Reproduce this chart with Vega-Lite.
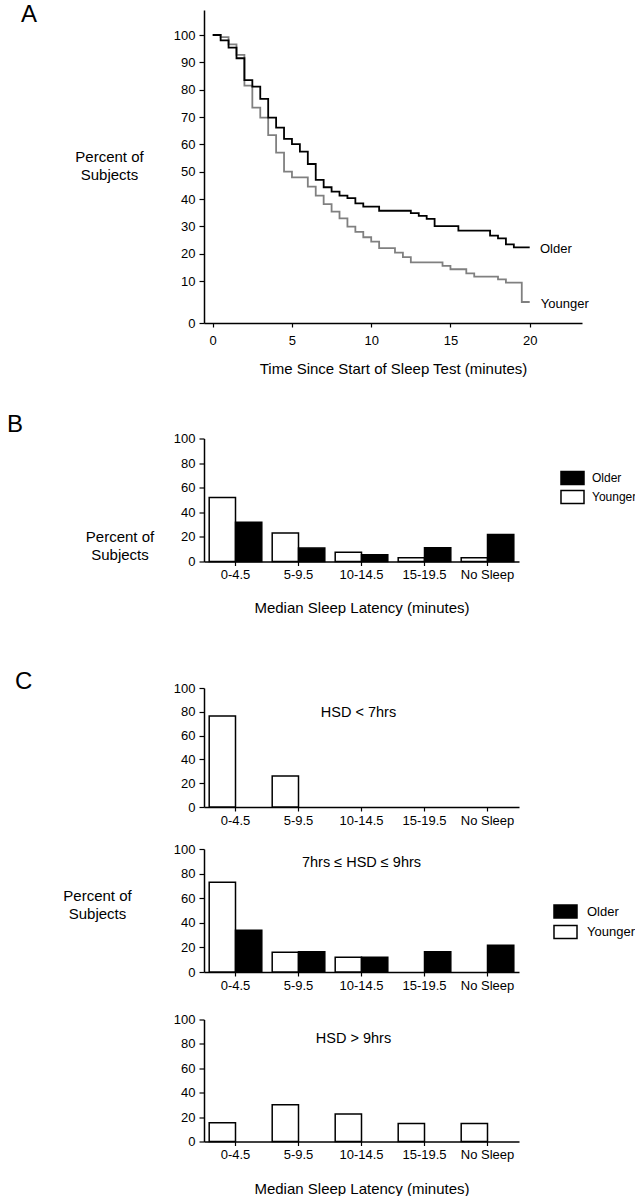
{
  "$schema": "https://vega.github.io/schema/vega-lite/v6.json",
  "padding": {"left": 7, "top": 3, "right": 0, "bottom": 0},
  "background": "white",
  "config": {
    "view": {"stroke": null},
    "font": "Liberation Sans",
    "axis": {"grid": false, "labelOverlap": false, "domainColor": "black", "domainWidth": 1.5, "tickColor": "black", "tickWidth": 1.2, "labelFont": "Liberation Sans", "labelFontSize": 13, "labelColor": "black", "titleFont": "Liberation Sans", "titleFontSize": 15, "titleFontWeight": "normal", "titleColor": "black"},
    "axisX": {"labelAngle": 0, "tickSize": 4, "labelPadding": 3},
    "axisY": {"tickSize": 5, "labelPadding": 4},
    "title": {"font": "Liberation Sans", "fontSize": 24, "fontWeight": "normal", "color": "black", "anchor": "start", "frame": "group"},
    "legend": {"labelFont": "Liberation Sans", "labelFontSize": 13, "labelColor": "black"}
  },
  "datasets": {
    "older": [
      {"t": 0, "pct": 100}, {"t": 0.5, "pct": 98}, {"t": 1.0, "pct": 95.4}, {"t": 1.5, "pct": 91.5}, {"t": 2.0, "pct": 83.5}, {"t": 2.5, "pct": 81.1}, {"t": 3.0, "pct": 76.6}, {"t": 3.5, "pct": 69.8}, {"t": 4.0, "pct": 66.1}, {"t": 4.5, "pct": 62}, {"t": 5.0, "pct": 60.1}, {"t": 5.5, "pct": 57.3}, {"t": 6.0, "pct": 52.8}, {"t": 6.5, "pct": 47}, {"t": 7.0, "pct": 44.3}, {"t": 7.5, "pct": 42.7}, {"t": 8.0, "pct": 41.2}, {"t": 8.5, "pct": 40.3}, {"t": 9.0, "pct": 38.4}, {"t": 9.5, "pct": 37.2}, {"t": 10.5, "pct": 35.7}, {"t": 12.5, "pct": 34.8}, {"t": 13.0, "pct": 33.8}, {"t": 13.5, "pct": 32.7}, {"t": 14.0, "pct": 30.1}, {"t": 15.5, "pct": 28.4}, {"t": 17.5, "pct": 26.6}, {"t": 18.0, "pct": 25.6}, {"t": 18.5, "pct": 23.4}, {"t": 19.0, "pct": 22.3}, {"t": 20.0, "pct": 22.3}
    ],
    "younger": [
      {"t": 0, "pct": 100}, {"t": 0.5, "pct": 99.2}, {"t": 1.0, "pct": 96.6}, {"t": 1.5, "pct": 92.7}, {"t": 2.0, "pct": 81.5}, {"t": 2.5, "pct": 73.4}, {"t": 3.0, "pct": 69.8}, {"t": 3.5, "pct": 63.4}, {"t": 4.0, "pct": 57.0}, {"t": 4.5, "pct": 50}, {"t": 5.0, "pct": 47.9}, {"t": 6.0, "pct": 44.5}, {"t": 6.5, "pct": 41.2}, {"t": 7.0, "pct": 38.1}, {"t": 7.5, "pct": 35.4}, {"t": 8.0, "pct": 32.9}, {"t": 8.5, "pct": 29.9}, {"t": 9.0, "pct": 28.0}, {"t": 9.5, "pct": 26.0}, {"t": 10.0, "pct": 24.4}, {"t": 10.5, "pct": 22.0}, {"t": 11.5, "pct": 20.4}, {"t": 12.0, "pct": 18.7}, {"t": 12.5, "pct": 16.8}, {"t": 14.5, "pct": 15.5}, {"t": 15.0, "pct": 14.3}, {"t": 16.0, "pct": 12.8}, {"t": 16.5, "pct": 11.6}, {"t": 18.0, "pct": 10.6}, {"t": 18.5, "pct": 9.6}, {"t": 19.5, "pct": 5}, {"t": 20.0, "pct": 5}
    ],
    "lineLabels": [
      {"t": 20.65, "pct": 21.7, "label": "Older"},
      {"t": 20.7, "pct": 4.6, "label": "Younger"}
    ],
    "b": [
      {"latency": "0-4.5", "group": "Younger", "pct": 52}, {"latency": "0-4.5", "group": "Older", "pct": 32},
      {"latency": "5-9.5", "group": "Younger", "pct": 23.1}, {"latency": "5-9.5", "group": "Older", "pct": 10.9},
      {"latency": "10-14.5", "group": "Younger", "pct": 7.6}, {"latency": "10-14.5", "group": "Older", "pct": 5.4},
      {"latency": "15-19.5", "group": "Younger", "pct": 3}, {"latency": "15-19.5", "group": "Older", "pct": 11.1},
      {"latency": "No Sleep", "group": "Younger", "pct": 3}, {"latency": "No Sleep", "group": "Older", "pct": 22}
    ],
    "c1": [
      {"latency": "0-4.5", "group": "Younger", "pct": 76.4},
      {"latency": "5-9.5", "group": "Younger", "pct": 26.1}
    ],
    "c2": [
      {"latency": "0-4.5", "group": "Younger", "pct": 72.9}, {"latency": "0-4.5", "group": "Older", "pct": 33.9},
      {"latency": "5-9.5", "group": "Younger", "pct": 16.0}, {"latency": "5-9.5", "group": "Older", "pct": 16.5},
      {"latency": "10-14.5", "group": "Younger", "pct": 11.9}, {"latency": "10-14.5", "group": "Older", "pct": 11.9},
      {"latency": "15-19.5", "group": "Older", "pct": 16.5},
      {"latency": "No Sleep", "group": "Older", "pct": 21.7}
    ],
    "c3": [
      {"latency": "0-4.5", "group": "Younger", "pct": 15.3},
      {"latency": "5-9.5", "group": "Younger", "pct": 30.2},
      {"latency": "10-14.5", "group": "Younger", "pct": 22.6},
      {"latency": "15-19.5", "group": "Younger", "pct": 14.8},
      {"latency": "No Sleep", "group": "Younger", "pct": 14.8}
    ],
    "c1Label": [{"label": "HSD < 7hrs"}],
    "c2Label": [{"label": "7hrs ≤  HSD ≤  9hrs"}],
    "c3Label": [{"label": "HSD > 9hrs"}]
  },
  "resolve": {"scale": {"x": "independent", "y": "independent", "fill": "independent", "xOffset": "independent"}, "legend": {"fill": "independent"}, "axis": {"x": "independent", "y": "independent"}},
  "spacing": 54,
  "vconcat": [
    {
      "spacing": 36.5,
      "resolve": {"scale": {"x": "independent", "y": "independent", "fill": "independent", "xOffset": "independent"}, "legend": {"fill": "independent"}, "axis": {"x": "independent", "y": "independent"}},
      "vconcat": [
        {
          "title": {"text": "A", "dx": -183, "offset": -17},
          "width": 378,
          "height": 313,
          "encoding": {
            "x": {"field": "t", "type": "quantitative", "scale": {"domain": [-0.55, 23.3], "nice": false, "zero": false},
              "axis": {"values": [0, 5, 10, 15, 20], "labelPadding": 7, "title": "Time Since Start of Sleep Test (minutes)", "titlePadding": 14}},
            "y": {"field": "pct", "type": "quantitative", "scale": {"domain": [0, 10, 100, 109.1], "range": [313, 271, 25, 0], "nice": false, "zero": false},
              "axis": {"values": [0, 10, 20, 30, 40, 50, 60, 70, 80, 90, 100],
                "title": ["Percent  of", "Subjects"], "titleAngle": 0, "titleAlign": "center", "titleBaseline": "middle", "titleX": -95, "titleY": 146, "titleLineHeight": 18}}
          },
          "layer": [
            {
              "data": {"name": "younger"},
              "mark": {"type": "line", "interpolate": "step-after", "color": "#808080", "strokeWidth": 1.8}
            },
            {
              "data": {"name": "older"},
              "mark": {"type": "line", "interpolate": "step-after", "color": "black", "strokeWidth": 1.8}
            },
            {
              "data": {"name": "lineLabels"},
              "mark": {"type": "text", "align": "left", "baseline": "middle", "fontSize": 13, "font": "Liberation Sans", "color": "black"},
              "encoding": {
                "text": {"field": "label"}
              }
            }
          ]
        },
        {
          "title": {"text": "B", "dx": -197, "offset": -4.5},
          "data": {"name": "b"},
          "width": 315,
          "height": 123,
          "mark": {"type": "bar", "stroke": "black", "strokeWidth": 1.5},
          "encoding": {
            "x": {"field": "latency", "type": "nominal", "scale": {"domain": ["0-4.5", "5-9.5", "10-14.5", "15-19.5", "No Sleep"], "paddingInner": 0.165, "paddingOuter": 0.0825},
              "axis": {"title": "Median Sleep Latency (minutes)", "titlePadding": 19}},
            "xOffset": {"field": "group", "scale": {"domain": ["Younger", "Older"], "paddingInner": 0, "paddingOuter": 0}},
            "y": {"field": "pct", "type": "quantitative", "scale": {"domain": [0, 100], "nice": false},
              "axis": {"values": [0, 20, 40, 60, 80, 100],
                "title": ["Percent  of", "Subjects"], "titleAngle": 0, "titleAlign": "center", "titleBaseline": "middle", "titleX": -84.5, "titleY": 98, "titleLineHeight": 18}},
            "fill": {"field": "group", "type": "nominal", "scale": {"domain": ["Older", "Younger"], "range": ["black", "white"]},
              "legend": {"orient": "none", "legendX": 361, "legendY": 32, "title": null, "padding": 0, "symbolType": "M-1.77,-1H1.77V1H-1.77Z", "symbolSize": 169, "symbolStrokeColor": "black", "symbolStrokeWidth": 1.5, "symbolOpacity": 1, "labelOffset": 12, "rowPadding": 0, "labelFontSize": 12}}
          }
        }
      ]
    },
    {
      "spacing": 21.5,
      "resolve": {"scale": {"x": "independent", "y": "independent", "fill": "independent", "xOffset": "independent"}, "legend": {"fill": "independent"}, "axis": {"x": "independent", "y": "independent"}},
      "vconcat": [
        {
          "spacing": 16,
          "resolve": {"scale": {"x": "independent", "y": "independent", "fill": "independent", "xOffset": "independent"}, "legend": {"fill": "independent"}, "axis": {"x": "independent", "y": "independent"}},
          "vconcat": [
            {
              "title": {"text": "C", "dx": -189, "offset": -12},
              "width": 315,
              "height": 119,
              "layer": [
                {
                  "data": {"name": "c1"},
                  "mark": {"type": "bar", "stroke": "black", "strokeWidth": 1.5},
                  "encoding": {
                    "x": {"field": "latency", "type": "nominal", "scale": {"domain": ["0-4.5", "5-9.5", "10-14.5", "15-19.5", "No Sleep"], "paddingInner": 0.165, "paddingOuter": 0.0825},
                      "axis": {"title": null}},
                    "xOffset": {"field": "group", "scale": {"domain": ["Younger", "Older"], "paddingInner": 0, "paddingOuter": 0}},
                    "y": {"field": "pct", "type": "quantitative", "scale": {"domain": [0, 100], "nice": false},
                      "axis": {"values": [0, 20, 40, 60, 80, 100], "title": null}},
                    "fill": {"field": "group", "type": "nominal", "scale": {"domain": ["Older", "Younger"], "range": ["black", "white"]}, "legend": null}
                  }
                },
                {
                  "data": {"name": "c1Label"},
                  "mark": {"type": "text", "fontSize": 14.5, "font": "Liberation Sans", "color": "black", "baseline": "middle", "dx": -3},
                  "encoding": {
                    "x": {"datum": "10-14.5", "type": "nominal", "axis": {"title": null}},
                    "y": {"datum": 79.2, "type": "quantitative", "axis": {"values": [0, 20, 40, 60, 80, 100], "title": null}},
                    "text": {"field": "label"}
                  }
                }
              ]
            },
            {
              "width": 315,
              "height": 123,
              "layer": [
                {
                  "data": {"name": "c2"},
                  "mark": {"type": "bar", "stroke": "black", "strokeWidth": 1.5},
                  "encoding": {
                    "x": {"field": "latency", "type": "nominal", "scale": {"domain": ["0-4.5", "5-9.5", "10-14.5", "15-19.5", "No Sleep"], "paddingInner": 0.165, "paddingOuter": 0.0825},
                      "axis": {"title": null}},
                    "xOffset": {"field": "group", "scale": {"domain": ["Younger", "Older"], "paddingInner": 0, "paddingOuter": 0}},
                    "y": {"field": "pct", "type": "quantitative", "scale": {"domain": [0, 100], "nice": false},
                      "axis": {"values": [0, 20, 40, 60, 80, 100],
                        "title": ["Percent of", "Subjects"], "titleAngle": 0, "titleAlign": "center", "titleBaseline": "middle", "titleX": -107, "titleY": 46, "titleLineHeight": 18}},
                    "fill": {"field": "group", "type": "nominal", "scale": {"domain": ["Older", "Younger"], "range": ["black", "white"]},
                      "legend": {"orient": "none", "legendX": 354, "legendY": 55, "title": null, "padding": 0, "symbolType": "M-1.77,-1H1.77V1H-1.77Z", "symbolSize": 169, "symbolStrokeColor": "black", "symbolStrokeWidth": 1.5, "symbolOpacity": 1, "labelOffset": 14, "rowPadding": 1.5, "labelFontSize": 13}}
                  }
                },
                {
                  "data": {"name": "c2Label"},
                  "mark": {"type": "text", "fontSize": 14.5, "font": "Liberation Sans", "color": "black", "baseline": "middle"},
                  "encoding": {
                    "x": {"datum": "10-14.5", "type": "nominal", "axis": {"title": null}},
                    "y": {"datum": 89, "type": "quantitative",
                      "axis": {"values": [0, 20, 40, 60, 80, 100],
                        "title": ["Percent of", "Subjects"], "titleAngle": 0, "titleAlign": "center", "titleBaseline": "middle", "titleX": -107, "titleY": 46, "titleLineHeight": 18}},
                    "text": {"field": "label"}
                  }
                }
              ]
            }
          ]
        },
        {
          "width": 315,
          "height": 122,
          "layer": [
            {
              "data": {"name": "c3"},
              "mark": {"type": "bar", "stroke": "black", "strokeWidth": 1.5},
              "encoding": {
                "x": {"field": "latency", "type": "nominal", "scale": {"domain": ["0-4.5", "5-9.5", "10-14.5", "15-19.5", "No Sleep"], "paddingInner": 0.165, "paddingOuter": 0.0825},
                  "axis": {"title": "Median Sleep Latency (minutes)", "titlePadding": 19.5}},
                "xOffset": {"field": "group", "scale": {"domain": ["Younger", "Older"], "paddingInner": 0, "paddingOuter": 0}},
                "y": {"field": "pct", "type": "quantitative", "scale": {"domain": [0, 100], "nice": false},
                  "axis": {"values": [0, 20, 40, 60, 80, 100], "title": null}},
                "fill": {"field": "group", "type": "nominal", "scale": {"domain": ["Older", "Younger"], "range": ["black", "white"]}, "legend": null}
              }
            },
            {
              "data": {"name": "c3Label"},
              "mark": {"type": "text", "fontSize": 14.5, "font": "Liberation Sans", "color": "black", "baseline": "middle", "dx": -8},
              "encoding": {
                "x": {"datum": "10-14.5", "type": "nominal", "axis": {"title": "Median Sleep Latency (minutes)", "titlePadding": 19.5}},
                "y": {"datum": 84.4, "type": "quantitative", "axis": {"values": [0, 20, 40, 60, 80, 100], "title": null}},
                "text": {"field": "label"}
              }
            }
          ]
        }
      ]
    }
  ]
}
